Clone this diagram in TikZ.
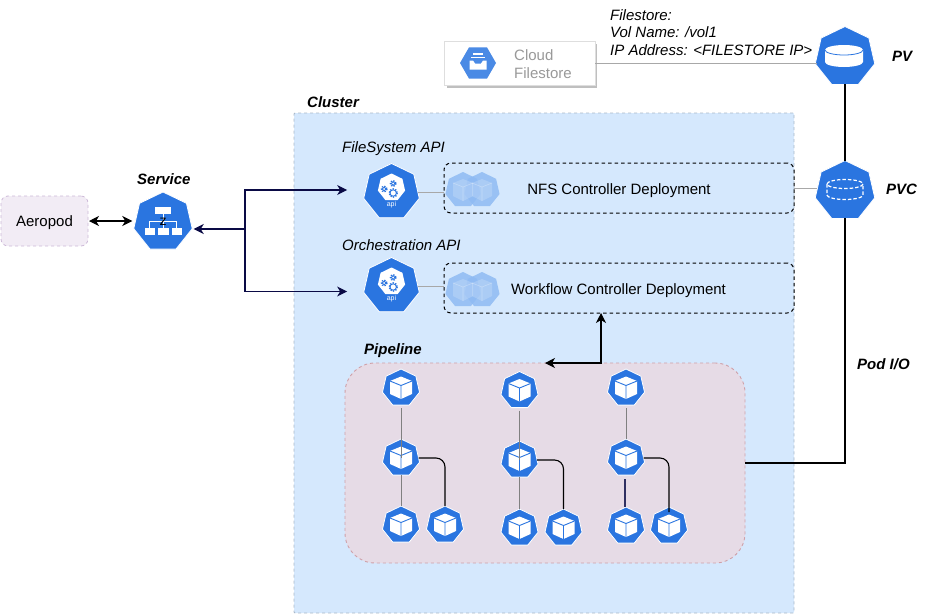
\documentclass[tikz,border=0pt]{standalone}
\usepackage{fontspec}
\setmainfont{Liberation Sans}
\usetikzlibrary{shapes.geometric,arrows.meta}
\definecolor{kblue}{HTML}{2A75E0}
\definecolor{clusterfill}{HTML}{D5E8FD}
\definecolor{clusterline}{HTML}{A9B8C8}
\definecolor{pipefill}{HTML}{E6DBE6}
\definecolor{pipeline}{HTML}{CFA0A8}
\definecolor{aerofill}{HTML}{F2ECF5}
\definecolor{aeroline}{HTML}{CDB9D8}
\definecolor{navyline}{HTML}{0A0A45}
\definecolor{graylink}{HTML}{A8A8A8}
\definecolor{ghostblue}{HTML}{8FBBF3}
\tikzset{
  hept/.style={regular polygon,regular polygon sides=7,fill=kblue,draw=white,line width=0.8pt,inner sep=0pt,outer sep=0pt},
  ghost/.style={regular polygon,regular polygon sides=7,inner sep=0pt,outer sep=0pt,fill=ghostblue,fill opacity=0.85,minimum size=36pt},
  lab/.style={font=\fontsize{15}{17.5}\selectfont\itshape,anchor=west,inner sep=0pt,text height=11pt,text depth=3pt},
  multilab/.style={font=\fontsize{15}{17.5}\selectfont\itshape,anchor=west,inner sep=0pt},
  blab/.style={font=\fontsize{15}{17.5}\selectfont\itshape\bfseries,anchor=west,inner sep=0pt,text height=11pt,text depth=3pt},
  body/.style={font=\fontsize{15}{17.5}\selectfont,inner sep=0pt,text height=11pt,text depth=3pt},
  glink/.style={draw=graylink,line width=1pt},
  dep/.style={draw=black,rounded corners=7pt,line width=1pt,dash pattern=on 3.5pt off 3pt},
  navyarr/.style={draw=navyline,line width=1.2pt,-{Stealth[length=10pt,width=10pt,inset=3pt]}},
  blk/.style={draw=black,line width=1.1pt},
  blkarr/.style={blk,{Stealth[length=10pt,width=10pt,inset=3pt]}-{Stealth[length=10pt,width=10pt,inset=3pt]}},
  podgray/.style={draw=black!50,line width=1pt},
  poddark/.style={draw=black,line width=1.1pt,rounded corners=9pt}
}
\newcommand{\PodIcon}[3]{%
  \node[hept,minimum size=38pt] (#1) at (#2,#3) {};
  \begin{scope}[shift={(#2,#3)}]
    \fill[white] (0,-11.5) -- (11,-7) -- (11,6) -- (0,11) -- (-11,6) -- (-11,-7) -- cycle;
    \draw[kblue,line width=0.9pt] (-11,-7) -- (0,-2.5) -- (11,-7) (0,-2.5) -- (0,11);
  \end{scope}}
\newcommand{\GearAt}[3]{%
  \draw[kblue,line width=0.9pt] (#1,#2) circle (#3);
  \draw[kblue,line width=1.3pt,dash pattern=on 1.3pt off 1.3pt] (#1,#2) circle (#3+0.9);}
\newcommand{\ApiIcon}[3]{%
  \node[hept,minimum size=57pt] (#1) at (#2,#3) {};
  \begin{scope}[shift={(#2,#3)}]
    \fill[white] (0,-18.5) -- (10.9,-13.2) -- (13.6,-1.4) -- (6.1,8.1) -- (-6.1,8.1) -- (-13.6,-1.4) -- (-10.9,-13.2) -- cycle;
    \GearAt{1.7}{-8.5}{1.9}
    \GearAt{-7.3}{-3}{1.9}
    \GearAt{1.7}{1}{3.2}
  \end{scope}}
\begin{document}
\begin{tikzpicture}[x=1pt,y=-1pt]
\useasboundingbox (0,0) rectangle (927,614);
% regions
\node[draw=clusterline,fill=clusterfill,dashed,line width=0.8pt,rounded corners=1pt,minimum width=500pt,minimum height=500pt,inner sep=0pt,outer sep=0pt,anchor=north west] (cluster) at (294,113) {};
\node[draw=pipeline,fill=pipefill,dashed,line width=0.9pt,rounded corners=30pt,minimum width=400pt,minimum height=200pt,inner sep=0pt,outer sep=0pt,anchor=north west] (pipe) at (345,363) {};
\node[dep,minimum width=350pt,minimum height=50pt,inner sep=0pt,outer sep=0pt,anchor=north west] (nfs) at (444,163) {};
\node[dep,minimum width=350pt,minimum height=50pt,inner sep=0pt,outer sep=0pt,anchor=north west] (wf) at (444,263) {};
% aeropod
\node[draw=aeroline,fill=aerofill,dashed,line width=0.8pt,rounded corners=7pt,minimum width=87pt,minimum height=50pt,outer sep=0pt,body,inner sep=0pt,text height=13pt,text depth=1.6pt] (aero) at (44.5,221) {Aeropod};
% filestore
\fill[black!25] (446.5,43.5) rectangle (597,88);
\node[draw=black!13,fill=white,line width=1pt,minimum width=151pt,minimum height=44.5pt,inner sep=0pt,outer sep=0pt,anchor=north west] (fs) at (444,41) {};
\fill[fill=kblue!85!white] (460,63) -- (469,47.4) -- (487,47.4) -- (496,63) -- (487,78.6) -- (469,78.6) -- cycle;
\fill[white] (469.5,60.5) -- (473,60.5) -- (475,63.5) -- (481,63.5) -- (483,60.5) -- (486.5,60.5) -- (486.5,69.5) -- (469.5,69.5) -- cycle;
\fill[white] (473,53) rectangle (483,54.5);
\fill[white] (471,56.5) rectangle (485,58);
\node[font=\fontsize{15}{18}\selectfont,text=black!40,align=left,inner sep=0pt,anchor=west] (fstext) at (514,64.5) {Cloud\\Filestore};
% PV
\node[hept,minimum size=61pt] (pv) at (845,57) {};
\draw[glink] (fs.east |- 0,63) -- (pv.west |- 0,63);
\fill[white] (825,50) arc[start angle=180,end angle=360,x radius=19,y radius=5] -- (863,62) arc[start angle=0,end angle=180,x radius=19,y radius=5] -- cycle;
\draw[kblue,line width=0.8pt] (825,50) arc[start angle=180,end angle=0,x radius=19,y radius=5];
% PVC
\node[hept,minimum size=61pt] (pvc) at (845,191) {};
\draw[white,line width=1.2pt,dash pattern=on 3.5pt off 2pt] (845,184) ellipse[x radius=18,y radius=4.5];
\draw[white,line width=1.2pt,dash pattern=on 3.5pt off 2pt] (827,184) -- (827,195) arc[start angle=180,end angle=0,x radius=18,y radius=4.5] -- (863,184);
% Service
\node[hept,minimum size=60pt] (svc) at (163,222) {};
\fill[white] (155,206.5) rectangle (171,214);
\fill[white] (144.5,228) rectangle (155,235);
\fill[white] (158,228) rectangle (169,235);
\fill[white] (171.5,228) rectangle (182,235);
\draw[white,line width=0.9pt] (163,214) -- (163,228) (149.5,228) -- (149.5,221) -- (176.5,221) -- (176.5,228);
\node[inner sep=0pt,font=\fontsize{14}{14}\selectfont] (zmark) at (163,221.5) {z};
% API
\ApiIcon{apia}{391.5}{192}
\node[white,inner sep=0pt,font=\fontsize{7}{8}\selectfont] (apiatxt) at (391.5,204.5) {api};
\ApiIcon{apib}{391.5}{286}
\node[white,inner sep=0pt,font=\fontsize{7}{8}\selectfont] (apibtxt) at (391.5,298.5) {api};
% ghosts
\node[ghost] (g1) at (463,190) {};
\node[ghost] (g2) at (482,190) {};
\node[ghost] (g3) at (463,290) {};
\node[ghost] (g4) at (482,290) {};
\foreach \gx/\gy in {463/190,482/190,463/290,482/290}{
  \fill[white,opacity=0.18] (\gx,\gy-11) -- (\gx+10,\gy-7) -- (\gx+10,\gy+6) -- (\gx,\gy+11) -- (\gx-10,\gy+6) -- (\gx-10,\gy-7) -- cycle;
  \draw[white,opacity=0.3,line width=0.6pt] (\gx-10,\gy-7) -- (\gx,\gy-3) -- (\gx+10,\gy-7) (\gx,\gy-3) -- (\gx,\gy+11);
}
% pods
\PodIcon{p1}{401}{388}\PodIcon{p2}{401}{458}\PodIcon{p3}{401}{525}\PodIcon{p4}{445}{525}
\PodIcon{q1}{519.5}{390.5}\PodIcon{q2}{519.5}{460}\PodIcon{q3}{519.5}{528}\PodIcon{q4}{563.5}{528}
\PodIcon{r1}{626}{388}\PodIcon{r2}{626}{458}\PodIcon{r3}{626}{526}\PodIcon{r4}{669}{526}
% pod links
\draw[podgray] ([yshift=-3pt]p1.south) -- (p2.center);
\draw[podgray] ([yshift=-3pt]q1.south) -- (q2.center);
\draw[podgray] ([yshift=-3pt]r1.south) -- (r2.north);
\draw[podgray] (p2.south) -- (p3.north);
\draw[podgray] (q2.south) -- (q3.north);
\draw[draw=navyline!85,line width=1.1pt] ([xshift=-1pt,yshift=-4pt]r2.south) -- ([xshift=-1pt]r3.north);
\draw[poddark] (p2.east) -| (p4.north);
\draw[poddark] (q2.east) -| (q4.north);
\draw[poddark] (r2.east) -| ([yshift=-5pt]r4.north);
% connectors
\draw[glink] (apia.east) -- (nfs.west |- apia.east);
\draw[glink] (apib.east) -- (wf.west |- apib.east);
\draw[glink] (nfs.east) -- (pvc.west |- nfs.east);
\draw[blk] (pv.south) -- (pvc.north);
\draw[blk] (pvc.south) |- (pipe.east |- 0,463);
\draw[blkarr,shorten >=3pt,shorten <=1pt] (aero.east) -- (svc.west |- aero.east);
\coordinate (hub) at (245,229);
\draw[navyarr,shorten >=3pt] (hub) -- (svc.east |- hub);
\draw[navyarr] (hub) |- ([xshift=-18pt,yshift=2pt]apia.west);
\draw[navyarr] (hub) |- ([xshift=-18pt,yshift=-5.5pt]apib.west);
\coordinate (wfdrop) at (601,313);
\coordinate (pipedrop) at (545,363);
\draw[blkarr] (pipedrop) -- (601,363) -- (wfdrop);
% labels
\node[multilab,align=left] (fsl) at (610,32.5) {Filestore:\\Vol Name: /vol1\\IP Address: <FILESTORE IP>};
\node[blab] (cl) at (307,103) {Cluster};
\node[lab] (fa) at (342,148) {FileSystem API};
\node[lab] (oa) at (342,246.5) {Orchestration API};
\node[blab] (pl) at (364,350) {Pipeline};
\node[blab] (sl) at (137,180.4) {Service};
\node[blab] (pvl) at (892,57.4) {PV};
\node[blab] (pvcl) at (886,190.4) {PVC};
\node[blab] (pio) at (857,365.4) {Pod I/O};
\node[body] (nfst) at (619,190.7) {NFS Controller Deployment};
\node[body] (wft) at (618.5,290.7) {Workflow Controller Deployment};
\end{tikzpicture}
\end{document}
